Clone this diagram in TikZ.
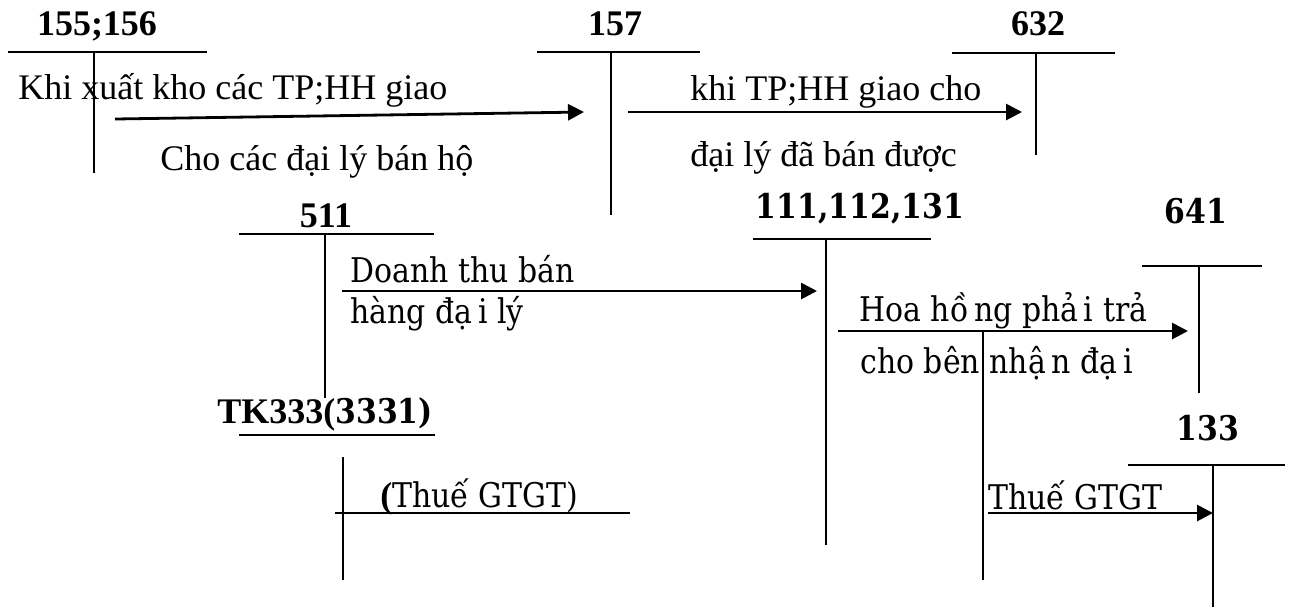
\documentclass[tikz,border=0pt]{standalone}
\usepackage{fontspec}
\setmainfont{Liberation Serif}
\newfontfamily\cambfont[FakeStretch=0.88]{DejaVu Serif}
\usetikzlibrary{arrows.meta}
\begin{document}
\begin{tikzpicture}[x=0.5pt,y=-0.5pt,
  acct/.style={font=\fontsize{18}{20}\selectfont\bfseries, inner sep=0pt, anchor=base},
  acctc/.style={font=\cambfont\fontsize{17}{20}\selectfont\bfseries, inner sep=0pt, anchor=base},
  note/.style={font=\fontsize{18}{20}\selectfont, inner sep=0pt, anchor=base west},
  notec/.style={font=\cambfont\fontsize{17}{20}\selectfont, inner sep=0pt, anchor=base west},
  tline/.style={line width=0.9pt},
  post/.style={line width=1.4pt, -{Triangle[length=8pt,width=8pt]}}]
  \useasboundingbox (0,0) rectangle (1291,607);

  % accounts
  \node[acct] (tk155) at (97,35) {155;156};
  \draw[tline] (8,52) -- (207,52) (94,52) -- (94,173);
  \node[acct] (tk157) at (615,35) {157};
  \draw[tline] (537,52) -- (700,52) (611,52) -- (611,215);
  \node[acct] (tk632) at (1038,35) {632};
  \draw[tline] (952,53) -- (1115,53) (1036,53) -- (1036,155);
  \node[acct] (tk511) at (326,227) {511};
  \draw[tline] (239,234) -- (434,234) (325,234) -- (325,398);
  \node[acctc] (tk111) at (860,218) {111,112,131};
  \draw[tline] (753,239) -- (931,239) (826,239) -- (826,545);
  \node[acctc] (tk641) at (1196,223) {641};
  \draw[tline] (1142,266) -- (1262,266) (1199,266) -- (1199,393);
  \node[acct, anchor=base west] (tk333) at (217,423) {TK333({\cambfont\fontsize{17}{20}\selectfont 3331)}};
  \draw[tline] (239,435) -- (435,435) (343,457) -- (343,580) (335,513) -- (630,513);
  \node[acctc] (tk133) at (1208,440) {133};
  \draw[tline] (1128,465) -- (1285,465) (1213,465) -- (1213,607);
  \draw[tline] (983,331) -- (983,580);

  % entries
  \node[note] (t1a) at (18,99) {Khi xuất kho các TP;HH giao};
  \node[note] (t1b) at (160,170) {Cho các đại lý bán hộ};
  \node[note] (t2a) at (690,100) {khi TP;HH giao cho};
  \node[note] (t2b) at (690,166) {đại lý đã bán được};
  \node[notec] (t3a) at (350,282) {Doanh thu bán};
  \node[notec] (t3b) at (350,323) {hàng đạ\,i lý};
  \node[notec] (t4a) at (859,321) {Hoa hồ\,ng phả\,i trả};
  \node[notec] (t4b) at (860,373) {cho bên nhậ\,n đạ\,i};
  \node[notec] (t5) at (380,507) {{\rmfamily\bfseries\fontsize{18}{20}\selectfont (}Thuế GTGT)};
  \node[notec] (t6) at (988,509) {Thuế GTGT};

  \coordinate (a1s) at (115,119);
  \coordinate (a1e) at (584,112);
  \coordinate (a2s) at (628,112);
  \coordinate (a2e) at (1022,112);
  \coordinate (a3s) at (342,291);
  \coordinate (a3e) at (817,291);
  \coordinate (a4s) at (838,331);
  \coordinate (a4e) at (1188,331);
  \coordinate (a5s) at (988,513);
  \coordinate (a5e) at (1213,513);
  \draw[post] (a1s) -- (a1e);
  \draw[post] (a2s) -- (a2e);
  \draw[post] (a3s) -- (a3e);
  \draw[post] (a4s) -- (a4e);
  \draw[post] (a5s) -- (a5e);
\end{tikzpicture}
\end{document}
